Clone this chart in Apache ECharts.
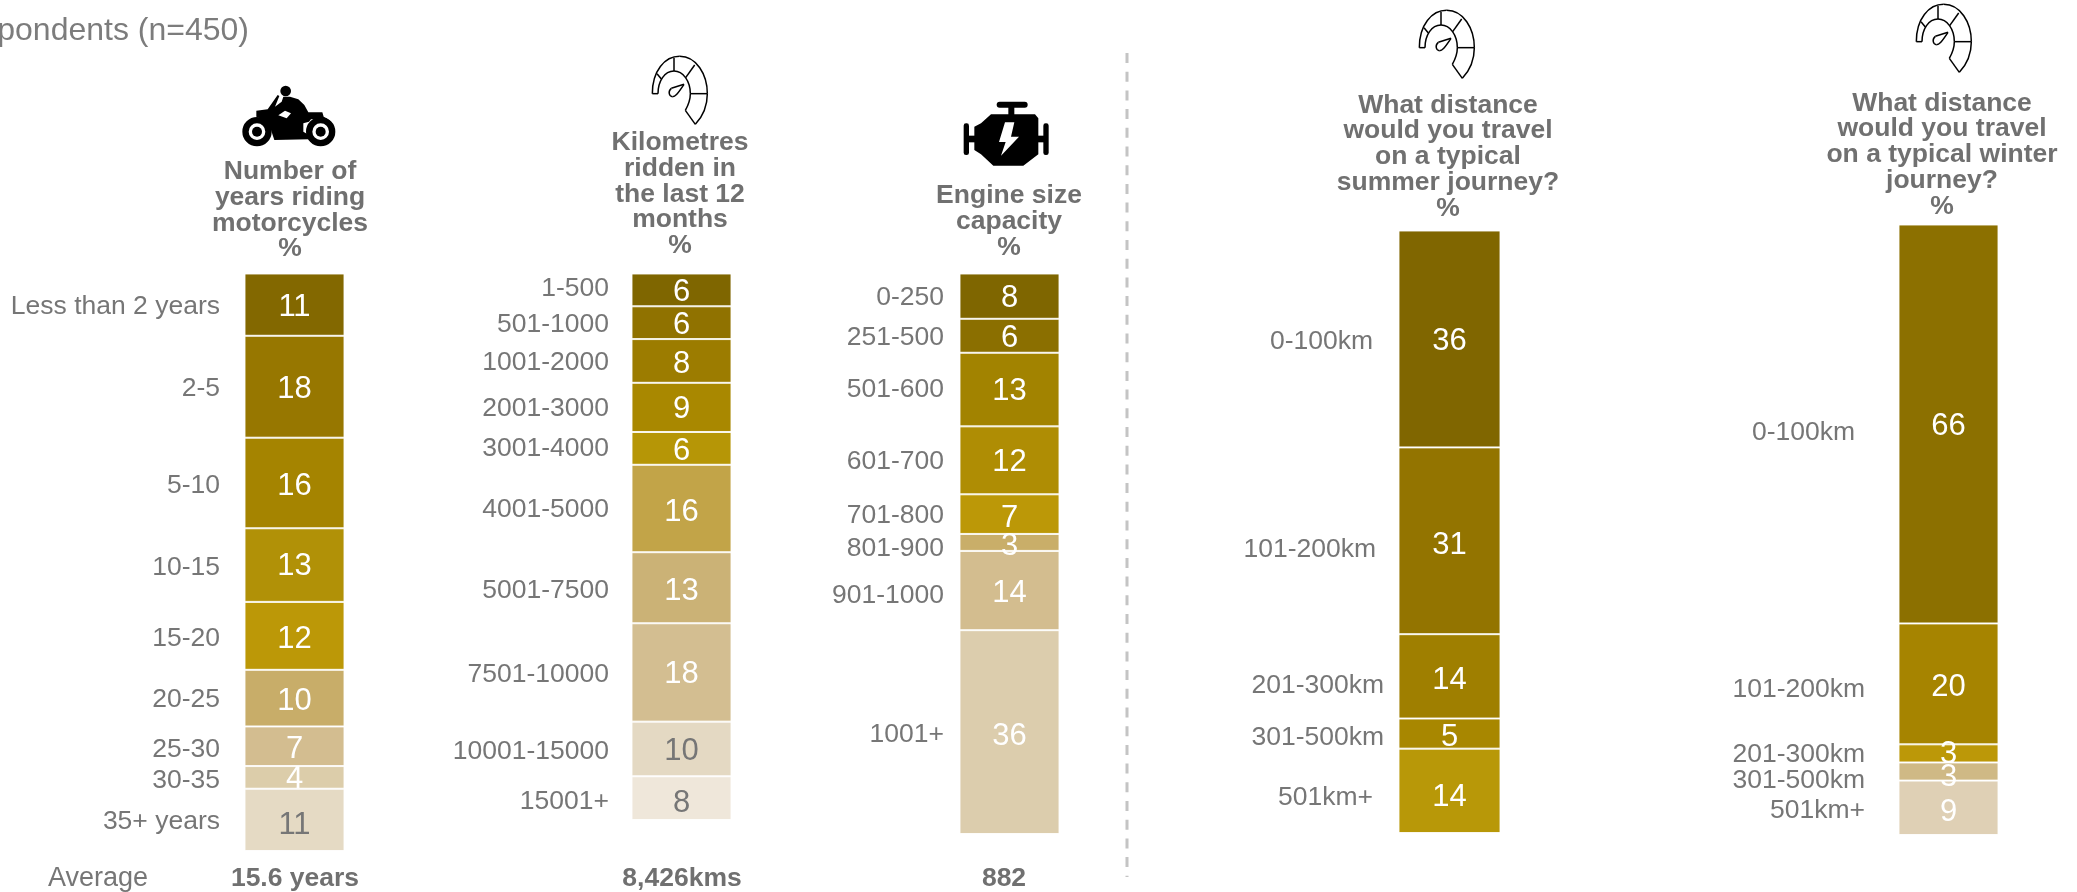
<!DOCTYPE html>
<html>
<head>
<meta charset="utf-8">
<title>Rider profile</title>
<style>
  html, body { margin: 0; padding: 0; background: #fff; }
  #chart { width: 2077px; height: 892px; }
</style>
<script src="https://cdn.jsdelivr.net/npm/echarts@6/dist/echarts.min.js"></script>
</head>
<body>
<div id="chart"></div>
<script>
// Survey answers, percent of respondents, listed from the top of each column down.
const yearsRidingCategories = ['Less than 2 years', '2-5', '5-10', '10-15', '15-20', '20-25', '25-30', '30-35', '35+ years'];
const yearsRidingValues = [11, 18, 16, 13, 12, 10, 7, 4, 11];

const kilometresCategories = ['1-500', '501-1000', '1001-2000', '2001-3000', '3001-4000', '4001-5000', '5001-7500', '7501-10000', '10001-15000', '15001+'];
const kilometresValues = [6, 6, 8, 9, 6, 16, 13, 18, 10, 8];

const engineCategories = ['0-250', '251-500', '501-600', '601-700', '701-800', '801-900', '901-1000', '1001+'];
const engineValues = [8, 6, 13, 12, 7, 3, 14, 36];

const journeyCategories = ['0-100km', '101-200km', '201-300km', '301-500km', '501km+'];
const summerValues = [36, 31, 14, 5, 14];
const winterValues = [66, 20, 3, 3, 9];

const subtitleText = 'pondents (n=450)';
const averageLabel = 'Average';
const averageTexts = ['15.6 years', '8,426kms', '882'];

const panelTitles = [
  'Number of\nyears riding\nmotorcycles\n%',
  'Kilometres\nridden in\nthe last 12\nmonths\n%',
  'Engine size\ncapacity\n%',
  'What distance\nwould you travel\non a typical\nsummer journey?\n%',
  'What distance\nwould you travel\non a typical winter\njourney?\n%'
];

const GREY = '#767676';
const FONT = '"Liberation Sans", Arial, sans-serif';

// Column geometry, fills and label placement for each panel.
const panels = [
  {
    categories: yearsRidingCategories, values: yearsRidingValues, title: panelTitles[0],
    box: [244.5, 273.5, 100, 577.5], titleAt: [290, 159],
    fills: ['#836800', '#977700', '#a58400', '#b19107', '#bc9807', '#c8ad69', '#d3bd90', '#dccdaa', '#e5dac4'],
    inks: { 8: GREY },
    nameDistance: [74, 74, 74, 74, 74, 74, 74, 74, 74],
    nameShift: [2, 1.5, 2.5, 2.5, 2.5, 1.5, 3, 3.5, 1.5],
    valueShift: [2.5, 2.5, 3.5, 1.5, 3.5, 3.5, 3.5, 2.5, 6]
  },
  {
    categories: kilometresCategories, values: kilometresValues, title: panelTitles[1],
    box: [631.5, 273.5, 100, 546.5], titleAt: [680, 130],
    fills: ['#7f6600', '#907200', '#9c7c00', '#a98800', '#b69606', '#c2a448', '#cbb276', '#d3be91', '#e4d9c3', '#efe7da'],
    inks: { 8: GREY, 9: GREY },
    nameDistance: [72, 72, 72, 72, 72, 72, 72, 72, 72, 72],
    nameShift: [-1, 2.5, 1.5, 1.5, 0, 1.5, 2.5, 2.5, 2.5, 4],
    valueShift: [2.5, 2.5, 3.5, 2.5, 3.5, 4, 3.5, 2.5, 2.5, 5.5]
  },
  {
    categories: engineCategories, values: engineValues, title: panelTitles[2],
    box: [959.5, 273.5, 100, 560.5], titleAt: [1009, 183],
    fills: ['#7f6600', '#8b6f00', '#a28300', '#af8d04', '#bc9807', '#c9ae69', '#d3bd8f', '#dccdad'],
    inks: {},
    nameDistance: [65, 65, 65, 65, 65, 65, 65, 65],
    nameShift: [1.5, 1.5, 0, 1.5, 1.5, 6.5, 5.5, 2.5],
    valueShift: [2.5, 2.5, 1.5, 2.5, 4, 4, 2.5, 4]
  },
  {
    categories: journeyCategories, values: summerValues, title: panelTitles[3],
    box: [1398.5, 230.5, 102, 602.5], titleAt: [1448, 92.5],
    fills: ['#806600', '#937400', '#9f7f00', '#a88700', '#b89808'],
    inks: {},
    nameDistance: [76, 73, 65, 65, 76],
    nameShift: [2.5, 8.5, 9, 4, 6.5],
    valueShift: [2.5, 4.5, 4, 4, 6.5]
  },
  {
    categories: journeyCategories, values: winterValues, title: panelTitles[4],
    box: [1898.5, 224.5, 100, 610.5], titleAt: [1942, 90.5],
    fills: ['#8c7000', '#a68400', '#bc9808', '#cfb985', '#dfd0b5'],
    inks: {},
    nameDistance: [93, 83, 83, 83, 83],
    nameShift: [8.5, 6, 1.5, 9.5, 2.5],
    valueShift: [2.5, 3.5, 1, 5.5, 4.5]
  }
];

const grid = [], xAxis = [], yAxis = [], series = [], title = [];

panels.forEach((panel, p) => {
  const total = panel.values.reduce((a, b) => a + b, 0);
  grid.push({ left: panel.box[0], top: panel.box[1], width: panel.box[2], height: panel.box[3] });
  xAxis.push({ type: 'category', gridIndex: p, data: ['share'], show: false });
  yAxis.push({ type: 'value', gridIndex: p, min: 0, max: total, inverse: true, show: false });
  title.push({
    text: panel.title, left: panel.titleAt[0], top: panel.titleAt[1], textAlign: 'center', padding: 0,
    textStyle: { fontFamily: FONT, fontSize: 26.5, fontWeight: 'bold', color: '#707070', lineHeight: 25.75 }
  });

  // One stacked bar per answer, carrying its value label.
  panel.values.forEach((value, i) => {
    series.push({
      type: 'bar', name: panel.categories[i], xAxisIndex: p, yAxisIndex: p,
      stack: 'panel' + p, barWidth: '100%', data: [value],
      itemStyle: { color: panel.fills[i], borderColor: 'rgba(255,255,255,0.85)', borderWidth: 1 },
      label: {
        show: true, position: 'inside', offset: [0, panel.valueShift[i]],
        fontFamily: FONT, fontSize: 31, color: panel.inks[i] || '#ffffff'
      }
    });
  });

  // Answer names sit left of each segment's midpoint.
  let running = 0;
  const names = panel.values.map((value, i) => {
    const mid = running + value / 2;
    running += value;
    return {
      value: [0, mid],
      label: { distance: panel.nameDistance[i], offset: [0, panel.nameShift[i]], formatter: panel.categories[i] }
    };
  });
  series.push({
    type: 'scatter', xAxisIndex: p, yAxisIndex: p, data: names, symbolSize: 1, silent: true,
    itemStyle: { color: 'transparent', opacity: 1 },
    label: { show: true, position: 'left', fontFamily: FONT, fontSize: 26.5, color: GREY }
  });
});

// Hand-drawn pictograms, coded in a 3x local space.
function pictogram(x, y, children) {
  return { type: 'group', x, y, scaleX: 1 / 3, scaleY: 1 / 3, silent: true, children };
}
const black = { fill: '#000000' };
const white = { fill: '#ffffff' };
const motorcycleParts = [
  { type: 'circle', shape: { cx: 152, cy: 33, r: 16 }, style: black },
  { type: 'polygon', shape: { points: [[64, 92], [98, 88], [128, 45], [133, 48], [120, 80], [140, 65], [145, 50], [165, 50], [190, 58], [208, 75], [220, 97], [262, 97], [266, 110], [285, 122], [300, 150], [296, 160], [282, 125], [262, 118], [228, 118], [222, 125], [205, 130], [205, 155], [222, 165], [222, 178], [118, 180], [108, 150], [92, 122], [64, 110]] }, style: black },
  { type: 'polygon', shape: { points: [[130, 106], [150, 92], [168, 100], [155, 115]] }, style: white },
  { type: 'ring', shape: { cx: 66, cy: 155, r: 44, r0: 25 }, style: black },
  { type: 'circle', shape: { cx: 66, cy: 155, r: 15 }, style: black },
  { type: 'ring', shape: { cx: 257, cy: 155, r: 44, r0: 25 }, style: black },
  { type: 'circle', shape: { cx: 257, cy: 155, r: 15 }, style: black }
];
const engineParts = [
  { type: 'rect', shape: { x: 125, y: 20, width: 93, height: 18, r: 9 }, style: black },
  { type: 'rect', shape: { x: 160, y: 36, width: 18, height: 26 }, style: black },
  { type: 'polygon', shape: { points: [[108, 58], [240, 58], [250, 70], [250, 178], [205, 212], [115, 212], [78, 178], [58, 165], [58, 95], [78, 85]] }, style: black },
  { type: 'rect', shape: { x: 26, y: 85, width: 16, height: 95, r: 7 }, style: black },
  { type: 'rect', shape: { x: 40, y: 122, width: 20, height: 20 }, style: black },
  { type: 'rect', shape: { x: 265, y: 85, width: 16, height: 95, r: 7 }, style: black },
  { type: 'rect', shape: { x: 248, y: 122, width: 20, height: 20 }, style: black },
  { type: 'polygon', shape: { points: [[150, 82], [178, 82], [168, 125], [192, 125], [138, 182], [152, 141], [132, 141]] }, style: white }
];
const gaugeStroke = { stroke: '#000000', fill: 'none', lineWidth: 4.5 };
function curve(x1, y1, cpx1, cpy1, cpx2, cpy2, x2, y2) {
  return { type: 'bezierCurve', shape: { x1, y1, cpx1, cpy1, cpx2, cpy2, x2, y2 }, style: gaugeStroke };
}
function stroke(x1, y1, x2, y2) {
  return { type: 'line', shape: { x1, y1, x2, y2 }, style: gaugeStroke };
}
function gaugeParts() {
  return [
    curve(43, 128, 43, 60, 80, 16, 125, 16),
    curve(125, 16, 175, 16, 208, 70, 208, 128),
    curve(208, 128, 208, 165, 195, 195, 172, 220),
    stroke(172, 220, 142, 178),
    curve(142, 178, 152, 160, 157, 145, 157, 128),
    curve(157, 128, 157, 90, 135, 60, 108, 60),
    curve(108, 60, 80, 60, 60, 90, 60, 128),
    stroke(60, 128, 43, 128),
    stroke(108, 60, 108, 20),
    stroke(143, 80, 170, 42),
    stroke(157, 128, 208, 128),
    stroke(70, 84, 57, 68),
    stroke(138, 100, 100, 112),
    curve(100, 112, 90, 120, 92, 135, 103, 137),
    curve(103, 137, 112, 137, 118, 130, 138, 100)
  ];
}

function caption(text, cx, bold) {
  return {
    type: 'text', x: cx, y: 878.5, silent: true,
    style: { text, fill: bold ? '#707070' : GREY, font: (bold ? 'bold ' : '') + (bold ? '26.5px ' : '27px ') + FONT, textAlign: 'center', textVerticalAlign: 'middle' }
  };
}

const graphic = [
  pictogram(235, 80, motorcycleParts),
  pictogram(955, 95, engineParts),
  pictogram(638, 51, gaugeParts()),
  pictogram(1405, 5, gaugeParts()),
  pictogram(1902, -1, gaugeParts()),
  {
    type: 'text', x: 249, y: 31, silent: true,
    style: { text: subtitleText, fill: '#7c7c7c', font: '32px ' + FONT, textAlign: 'right', textVerticalAlign: 'middle' }
  },
  {
    type: 'line', silent: true, shape: { x1: 1127, y1: 53, x2: 1127, y2: 877 },
    style: { stroke: '#c4c4c4', lineWidth: 3, lineDash: [10, 8.7] }
  },
  caption(averageLabel, 98, false),
  caption(averageTexts[0], 295, true),
  caption(averageTexts[1], 682, true),
  caption(averageTexts[2], 1004, true)
];

const chart = echarts.init(document.getElementById('chart'), null, { renderer: 'canvas' });
chart.setOption({
  animation: false,
  backgroundColor: '#ffffff',
  tooltip: { show: false },
  title, grid, xAxis, yAxis, series, graphic
});
</script>
</body>
</html>
